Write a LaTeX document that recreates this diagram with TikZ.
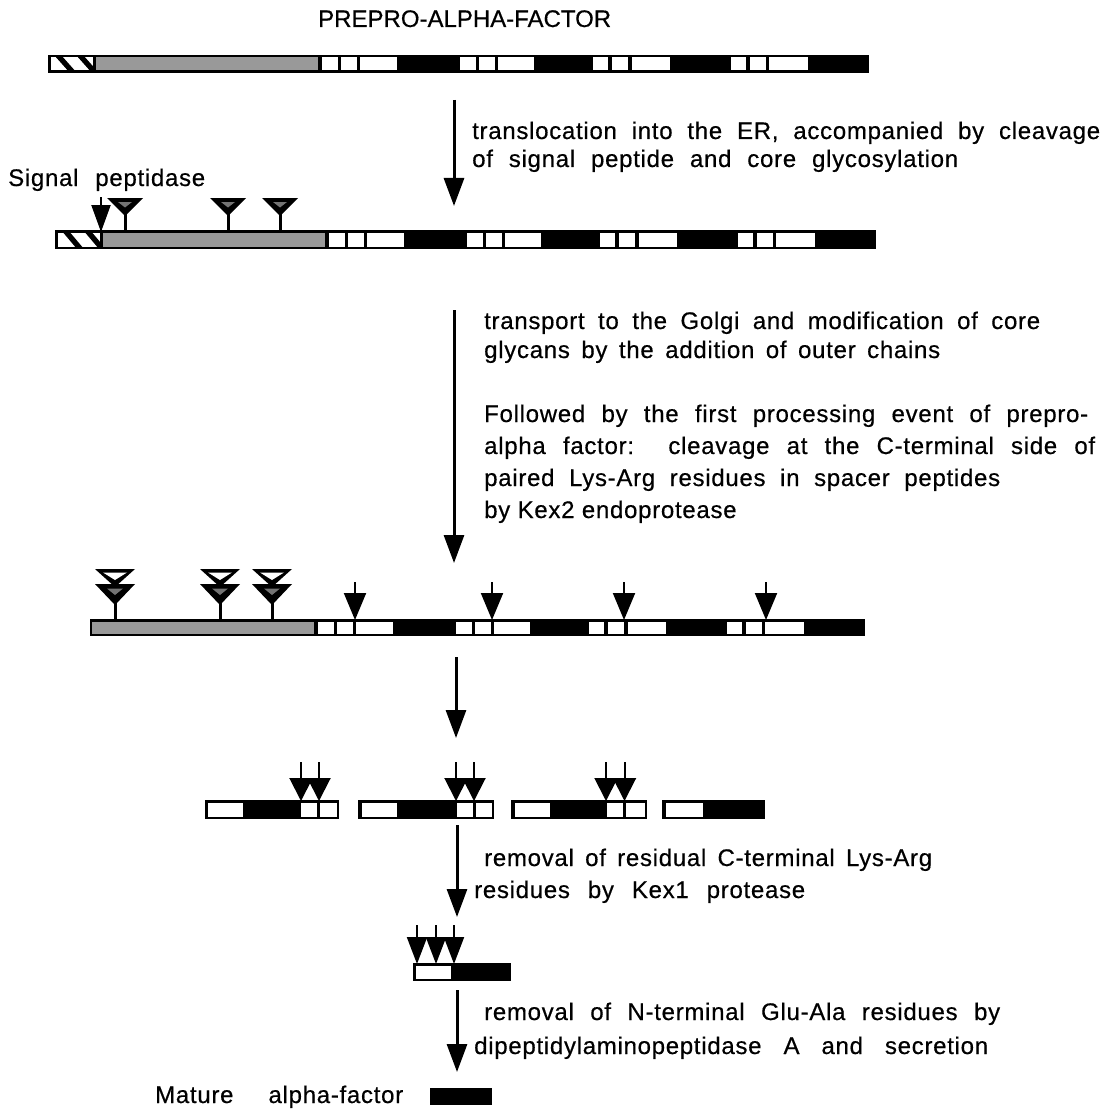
\documentclass[tikz,border=0pt]{standalone}
\usepackage{fontspec}
\setmainfont{Liberation Sans}[LetterSpace=3,FakeBold=0.5]
\newfontfamily\titlefont{Liberation Sans}[FakeBold=0.5]
\usetikzlibrary{arrows.meta}

\colorlet{stip}{black!40}
\colorlet{glystip}{black!55}

\tikzset{
  label/.style={anchor=base west, inner sep=0pt, font=\fontsize{24}{28}\selectfont},
  mainarrow/.style={line width=3pt, -{Triangle[length=28pt,width=20pt]}},
  cutarrow/.style={line width=2pt, -{Triangle[length=27pt,width=22pt]}},
  pairarrow/.style={line width=2pt, -{Triangle[length=23pt,width=23pt]}},
  kexarrow/.style={line width=2pt, -{Triangle[length=27pt,width=20pt]}},
}

% one precursor bar: #1 shift, #2 top, #3 bottom, #4 left end of the frame
\newcommand\alphabar[4]{%
  \begin{scope}[shift={(#1,0)}]
    \fill (#4,#2) rectangle (869,#3);
    \fill[stip] (96,{#2+2.5}) rectangle (318,{#3-2.5});
    \foreach \a/\b in {322/338,341/357,360/397,460/476,479/495,498/534,
                       593/608,612/628,632/670,731/746,750/766,769/808}
      \fill[white] (\a,{#2+2.5}) rectangle (\b,{#3-2.5});
  \end{scope}}

% signal sequence segment with diagonal stripes
\newcommand\signalseg[3]{%
  \begin{scope}[shift={(#1,0)}]
    \fill[white] (50.5,{#2+2.5}) rectangle (93,{#3-2.5});
    \begin{scope}
      \clip (50.5,{#2+2.5}) rectangle (93,{#3-2.5});
      \fill (54,{#2}) -- (61,{#2}) -- (77,{#3}) -- (70,{#3}) -- cycle;
      \fill (76,{#2}) -- (83,{#2}) -- (99,{#3}) -- (92,{#3}) -- cycle;
    \end{scope}
  \end{scope}}

% core glycan: #1 centre, #2 top, #3 foot of the stem
\newcommand\glyco[3]{%
  \fill ({#1-18},#2) -- ({#1+18},#2) -- (#1,{#2+18}) -- cycle;
  \fill[glystip] ({#1-7},{#2+4}) -- ({#1+7},{#2+4}) -- (#1,{#2+9.5}) -- cycle;
  \draw[line width=3pt] (#1,{#2+14}) -- (#1,#3);}

% glycan with outer chain added
\newcommand\glycoo[3]{%
  \fill ({#1-20},#2) -- ({#1+20},#2) -- (#1,{#2+18}) -- cycle;
  \fill[white] ({#1-12},{#2+3.5}) -- ({#1+12},{#2+3.5}) -- (#1,{#2+11}) -- cycle;
  \fill ({#1-20},{#2+15}) -- ({#1+20},{#2+15}) -- (#1,{#2+36}) -- cycle;
  \fill[glystip] ({#1-8},{#2+19.5}) -- ({#1+8},{#2+19.5}) -- (#1,{#2+26}) -- cycle;
  \draw[line width=3pt] (#1,{#2+33}) -- (#1,#3);}

\begin{document}
\begin{tikzpicture}[x=1pt,y=-1pt]
\useasboundingbox[fill=white] (0,0) rectangle (1110,1110);

% ---- prepro-alpha-factor
\node[anchor=base west, inner sep=0pt, font=\titlefont\fontsize{24}{28}\selectfont]
  (title) at (318,27) {\makebox[304pt][s]{PREPRO-ALPHA-FACTOR}};
\alphabar{0}{55}{73}{48}
\signalseg{0}{55}{73}

% ---- step 1
\coordinate (s1a) at (454,100);
\coordinate (s1b) at (454,206);
\draw[mainarrow] (s1a) -- (s1b);
\node[label] (t1) at (472,139) {\makebox[628pt][s]{translocation into the ER, accompanied by cleavage}};
\node[label] (t2) at (472,167) {\makebox[486pt][s]{of signal peptide and core glycosylation}};
\node[label] (sp) at (8,186) {\makebox[197pt][s]{Signal peptidase}};

% ---- core-glycosylated pro-alpha-factor
\alphabar{7}{230}{249}{48}
\signalseg{7}{230}{249}
\glyco{125}{198}{230}
\glyco{228}{198}{230}
\glyco{280}{198}{230}
\coordinate (spa) at (101,197);
\coordinate (spb) at (101,232);
\draw[line width=2pt, -{Triangle[length=27pt,width=19pt]}] (spa) -- (spb);

% ---- step 2
\coordinate (s2a) at (454,310);
\coordinate (s2b) at (454,563);
\draw[mainarrow] (s2a) -- (s2b);
\node[label] (t3) at (484,329) {\makebox[556pt][s]{transport to the Golgi and modification of core}};
\node[label] (t4) at (484,358) {\makebox[456pt][s]{glycans by the addition of outer chains}};
\node[label] (t5) at (484,422) {\makebox[604pt][s]{Followed by the first processing event of prepro-}};
\node[label] (t6) at (484,454) {\makebox[611pt][s]{alpha factor:\ \ cleavage at the C-terminal side of}};
\node[label] (t7) at (484,486) {\makebox[516pt][s]{paired Lys-Arg residues in spacer peptides}};
\node[label] (t8) at (484,518) {by Kex2 endoprotease};

% ---- Golgi form with Kex2 sites
\alphabar{-4}{619}{636}{94}
\glycoo{115}{569}{619}
\glycoo{220}{569}{619}
\glycoo{272}{569}{619}
\foreach \x [count=\i] in {355,492,624,766} {
  \coordinate (k\i a) at (\x,582);
  \coordinate (k\i b) at (\x,620);
  \draw[cutarrow] (k\i a) -- (k\i b);
}

% ---- step 3
\coordinate (s3a) at (456,657);
\coordinate (s3b) at (456,738);
\draw[mainarrow] (s3a) -- (s3b);

% ---- Kex2 products
\foreach \l/\r in {205/339,358/494,511/647,662/765}
  \fill (\l,800) rectangle (\r,819);
\foreach \a/\b in {208/243,301/317,320/336.5,
                   361.5/397,457/473,476/491.5,
                   514.5/550,607/623,626/644.5,
                   665.5/703}
  \fill[white] (\a,802.5) rectangle (\b,816.5);
\foreach \x [count=\i] in {301,319,456,474,606,624.5} {
  \coordinate (p\i a) at (\x,762);
  \coordinate (p\i b) at (\x,801);
  \draw[pairarrow] (p\i a) -- (p\i b);
}

% ---- step 4
\coordinate (s4a) at (457,825);
\coordinate (s4b) at (457,917);
\draw[mainarrow] (s4a) -- (s4b);
\node[label] (t9) at (484,866) {\makebox[448pt][s]{removal of residual C-terminal Lys-Arg}};
\node[label] (t10) at (474,898) {\makebox[331pt][s]{residues by Kex1 protease}};

% ---- Kex1 product
\fill (413,963) rectangle (511,981);
\fill[white] (416,965.5) rectangle (451,978.5);
\foreach \x [count=\i] in {417,436,454} {
  \coordinate (q\i a) at (\x,925);
  \coordinate (q\i b) at (\x,964);
  \draw[kexarrow] (q\i a) -- (q\i b);
}

% ---- step 5
\coordinate (s5a) at (457,990);
\coordinate (s5b) at (457,1072);
\draw[mainarrow] (s5a) -- (s5b);
\node[label] (t11) at (484,1020) {\makebox[516pt][s]{removal of N-terminal Glu-Ala residues by}};
\node[label] (t12) at (474,1054) {\makebox[514pt][s]{dipeptidylaminopeptidase A and secretion}};

% ---- mature pheromone
\node[label] (mat) at (155,1103) {\makebox[248pt][s]{Mature alpha-factor}};
\fill (430,1088) rectangle (492,1105);
\end{tikzpicture}
\end{document}
